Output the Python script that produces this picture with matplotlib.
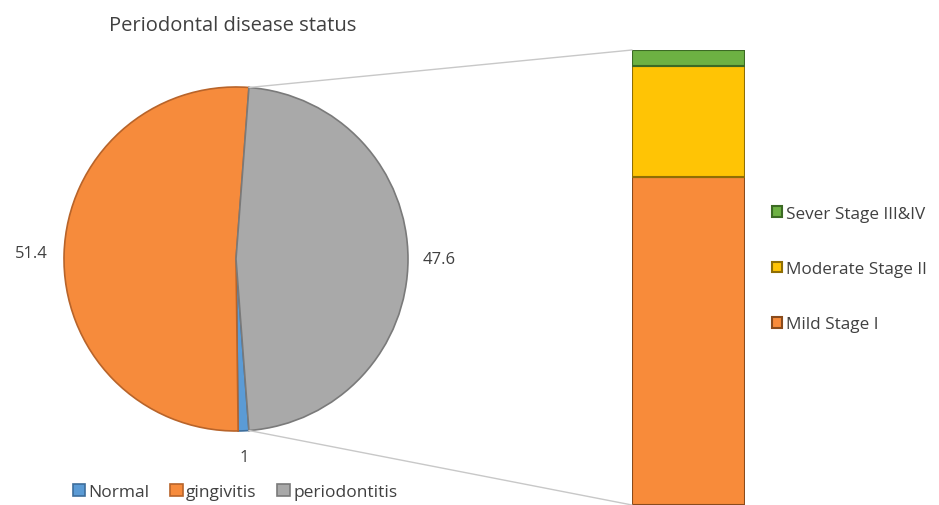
import matplotlib.pyplot as plt
from matplotlib.patches import ConnectionPatch
import numpy as np

plt.rcParams['font.family'] = ['Open Sans', 'DejaVu Sans']

# Pie data
pie_labels = ['Normal', 'gingivitis', 'periodontitis']
pie_values = [1, 51.4, 47.6]
pie_colors = ['#5B9BD5', '#F68B3C', '#A9A9A9']
pie_edges = ['#3E6E9C', '#B8642A', '#7A7A7A']

# Bar of pie data (share of periodontitis, %)
bar_labels = ['Mild Stage I', 'Moderate Stage II', 'Sever Stage III&IV']
bar_values = [72.0, 24.5, 3.5]
bar_colors = ['#F88B3A', '#FFC405', '#6DB143']
bar_edges = ['#8A4B1C', '#8F6E05', '#3C6A24']

W, H = 939, 506
fig = plt.figure(figsize=(W / 100, H / 100), dpi=100)
txt = '#404040'

# pie axes in pixel units
ax = fig.add_axes([0, 0, 1, 1])

cx, cy, r = 236, 246, 172
# periodontitis centred at 3 o'clock, slices drawn clockwise
start = 360 - pie_values[2] * 3.6 / 2
wedges, _ = ax.pie(pie_values, colors=pie_colors, center=(cx, cy), radius=r,
                   startangle=start, counterclock=False,
                   wedgeprops=dict(linewidth=1.2))
for w, ec in zip(wedges, pie_edges):
    w.set_edgecolor(ec)
ax.set_xlim(0, W)
ax.set_ylim(0, H)
ax.set_aspect('auto')
ax.axis('off')

# value labels
for w, v, d in zip(wedges, pie_values, [1.15, 1.19, 1.18]):
    a = np.deg2rad((w.theta1 + w.theta2) / 2)
    ax.text(cx + d * r * np.cos(a), cy + d * r * np.sin(a), f'{v:g}',
            ha='center', va='center', fontsize=12, color=txt)

ax.text(233, H - 26, 'Periodontal disease status', ha='center', va='center',
        fontsize=14.5, color=txt)

ax.legend(wedges, pie_labels, loc='center', bbox_to_anchor=(235 / W, 1 - 493 / H),
          ncol=3, frameon=False, fontsize=12.5, labelcolor=txt,
          handlelength=0.7, handleheight=0.7, handletextpad=0.2, columnspacing=1.2)

# bar of pie
bx = fig.add_axes([632 / W, 0, 113 / W, 455 / H])
bottom = 0
for v, c, ec in zip(bar_values, bar_colors, bar_edges):
    bx.bar(0, v, bottom=bottom, width=1, color=c, edgecolor=ec, linewidth=1.5)
    bottom += v
bx.set_xlim(-0.5, 0.5)
bx.set_ylim(0, 100)
bx.axis('off')

handles = bx.patches[::-1]
fig.legend(handles, bar_labels[::-1], loc='center left',
           bbox_to_anchor=(772 / W, 1 - 270 / H), frameon=False, fontsize=12.3,
           labelcolor=txt, handlelength=0.6, handleheight=0.6, handletextpad=0.2,
           labelspacing=2.3, borderaxespad=0, borderpad=0)

# connector lines
top_ang = np.deg2rad(wedges[2].theta2)
bot_ang = np.deg2rad(wedges[2].theta1)
for ang, yb in [(top_ang, 100), (bot_ang, 0)]:
    con = ConnectionPatch(xyA=(cx + r * np.cos(ang), cy + r * np.sin(ang)), coordsA=ax.transData,
                          xyB=(-0.5, yb), coordsB=bx.transData,
                          color='#C8C8C8', linewidth=1)
    fig.add_artist(con)

fig.savefig('out.png', dpi=100)
